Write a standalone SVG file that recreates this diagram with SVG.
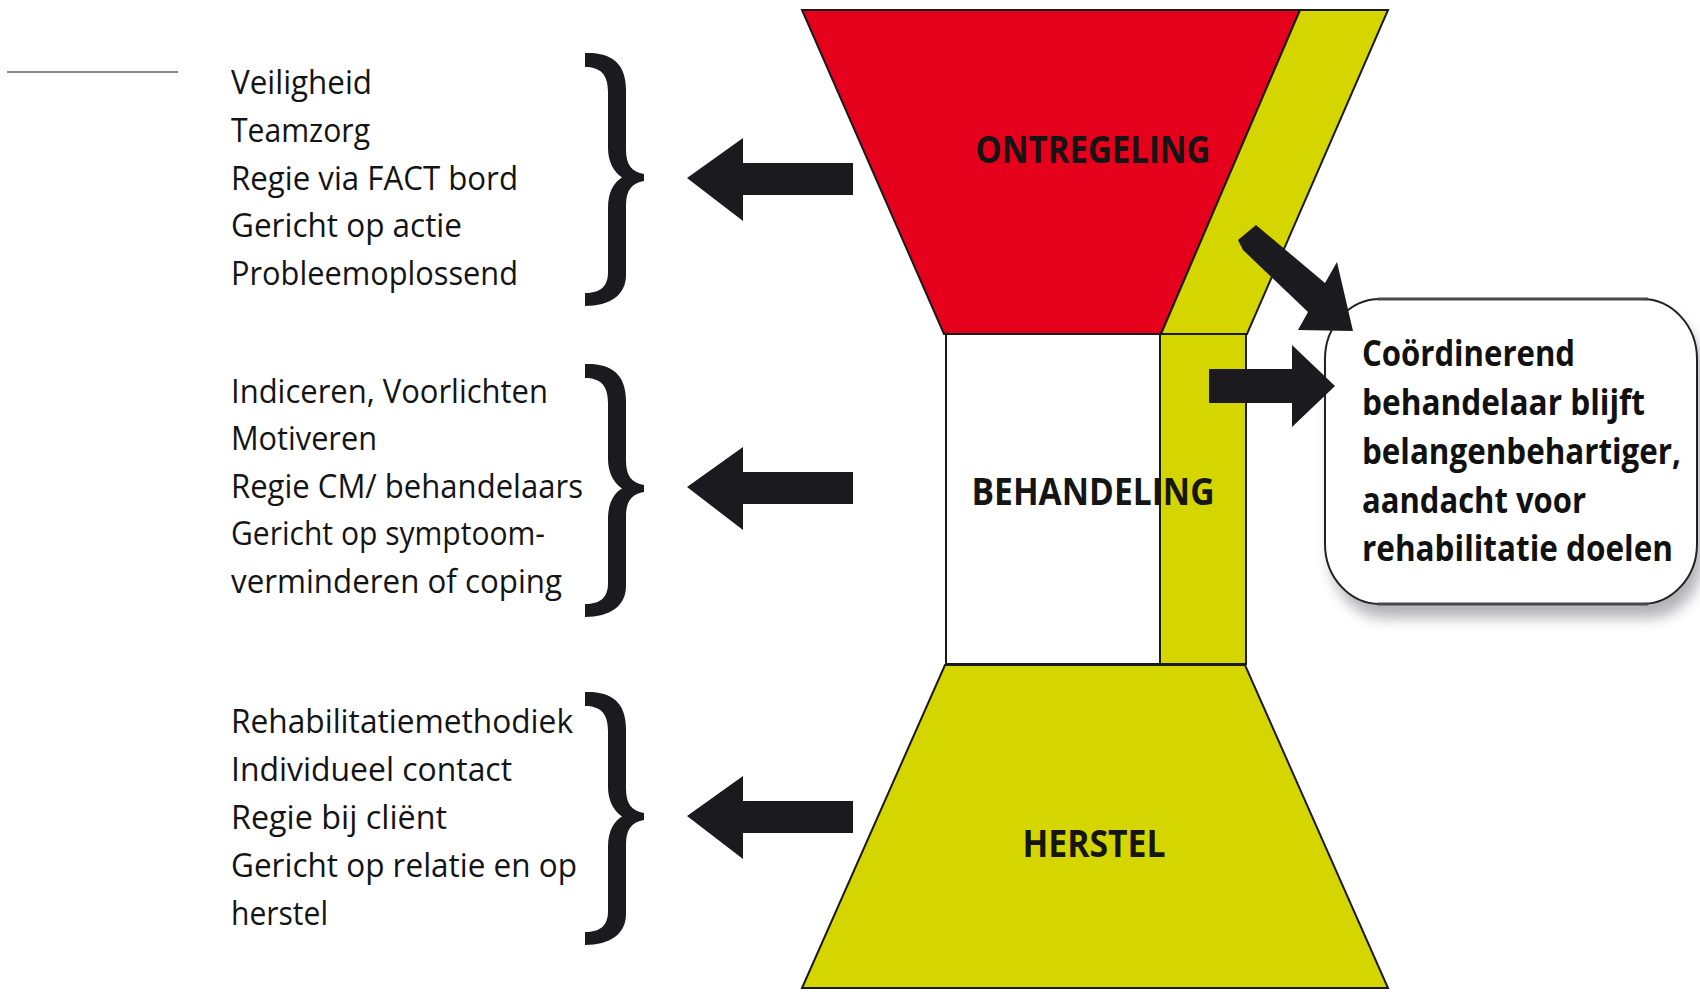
<svg xmlns="http://www.w3.org/2000/svg" width="1700" height="995" viewBox="0 0 1700 995">
<style>
.list{font-family:"Open Sans","Noto Sans","Liberation Sans",sans-serif;font-size:32px;fill:#141414}
.lab{font-family:"Open Sans","Noto Sans","Liberation Sans",sans-serif;font-size:38px;font-weight:bold;fill:#151515;text-anchor:middle}
.box{font-family:"Open Sans","Noto Sans","Liberation Sans",sans-serif;font-size:35px;font-weight:bold;fill:#111}
.edge{stroke:#1a1a1a;stroke-width:2;stroke-linejoin:miter}
.red{fill:#E5001C}
.yel{fill:#D5D500}
.ink{fill:#1b1b1f}
</style>
<defs>
<path id="brace" d="M585,53 C610,52 626,62 626,90 L626,150 C626,165 632,172 644,174 L644,181 C632,183 626,190 626,205 L626,275 C626,295 610,306 585,306 L585,293 C600,293 608,287 608,272 L608,208 C608,192 614,182 622,177.5 C614,172 608,162 608,148 L608,92 C608,74 600,67 585,67 Z"/>
<path id="larrow" d="M0,0 L56,-40 L56,-15 L166,-15 L166,17 L56,17 L56,43 Z"/>
<filter id="blur" x="-20%" y="-20%" width="140%" height="150%"><feGaussianBlur stdDeviation="7"/></filter>
</defs>
<rect width="1700" height="995" fill="#fff"/>
<line x1="7" y1="72" x2="178" y2="72" stroke="#8a8a8a" stroke-width="2"/>

<g id="node-list-ontregeling">
<text class="list" x="231" y="94" textLength="141" lengthAdjust="spacingAndGlyphs">Veiligheid</text>
<text class="list" x="231" y="142" textLength="139" lengthAdjust="spacingAndGlyphs">Teamzorg</text>
<text class="list" x="231" y="190" textLength="287" lengthAdjust="spacingAndGlyphs">Regie via FACT bord</text>
<text class="list" x="231" y="237" textLength="231" lengthAdjust="spacingAndGlyphs">Gericht op actie</text>
<text class="list" x="231" y="285" textLength="287" lengthAdjust="spacingAndGlyphs">Probleemoplossend</text>
<use href="#brace" class="ink"/>
</g>

<g id="node-list-behandeling">
<text class="list" x="231" y="403" textLength="317" lengthAdjust="spacingAndGlyphs">Indiceren, Voorlichten</text>
<text class="list" x="231" y="450" textLength="146" lengthAdjust="spacingAndGlyphs">Motiveren</text>
<text class="list" x="231" y="498" textLength="352" lengthAdjust="spacingAndGlyphs">Regie CM/ behandelaars</text>
<text class="list" x="231" y="545" textLength="314" lengthAdjust="spacingAndGlyphs">Gericht op symptoom-</text>
<text class="list" x="231" y="593" textLength="331" lengthAdjust="spacingAndGlyphs">verminderen of coping</text>
<use href="#brace" class="ink" transform="translate(0,311)"/>
</g>

<g id="node-list-herstel">
<text class="list" x="231" y="733" textLength="342" lengthAdjust="spacingAndGlyphs">Rehabilitatiemethodiek</text>
<text class="list" x="231" y="781" textLength="281" lengthAdjust="spacingAndGlyphs">Individueel contact</text>
<text class="list" x="231" y="829" textLength="216" lengthAdjust="spacingAndGlyphs">Regie bij cliënt</text>
<text class="list" x="231" y="877" textLength="346" lengthAdjust="spacingAndGlyphs">Gericht op relatie en op</text>
<text class="list" x="231" y="925" textLength="97" lengthAdjust="spacingAndGlyphs">herstel</text>
<use href="#brace" class="ink" transform="translate(0,639)"/>
</g>

<g id="node-ontregeling">
<polygon class="red edge" points="802,10 1300,10 1161,334 944,334"/>
<text class="lab" x="1093" y="163" textLength="235" lengthAdjust="spacingAndGlyphs">ONTREGELING</text>
</g>

<g id="node-strip">
<polygon class="yel edge" points="1300,10 1388,10 1247,334 1161,334"/>
</g>

<g id="node-behandeling">
<rect class="edge" x="946" y="334" width="214" height="330" fill="#fff"/>
<rect class="yel edge" x="1160" y="334" width="86" height="330"/>
<text class="lab" x="1093" y="505" textLength="243" lengthAdjust="spacingAndGlyphs">BEHANDELING</text>
</g>

<g id="node-herstel">
<polygon class="yel edge" points="945,665 1245,665 1388,988 802,988"/>
<text class="lab" x="1094" y="857" textLength="143" lengthAdjust="spacingAndGlyphs">HERSTEL</text>
</g>

<g id="node-coordinator">
<rect x="1331" y="313" width="372" height="305" rx="55" ry="60" fill="#9a9aa0" opacity="0.75" filter="url(#blur)"/>
<rect x="1325" y="299" width="372" height="305" rx="55" ry="60" fill="#fff" stroke="#222" stroke-width="2"/>
<line x1="1378" y1="299" x2="1648" y2="299" stroke="#4a4650" stroke-width="3"/>
<line x1="1378" y1="604" x2="1648" y2="604" stroke="#4a4650" stroke-width="3"/>
<text class="box" x="1362" y="366" textLength="213" lengthAdjust="spacingAndGlyphs">Coördinerend</text>
<text class="box" x="1362" y="415" textLength="283" lengthAdjust="spacingAndGlyphs">behandelaar blijft</text>
<text class="box" x="1362" y="464" textLength="319" lengthAdjust="spacingAndGlyphs">belangenbehartiger,</text>
<text class="box" x="1362" y="513" textLength="224" lengthAdjust="spacingAndGlyphs">aandacht voor</text>
<text class="box" x="1362" y="561" textLength="311" lengthAdjust="spacingAndGlyphs">rehabilitatie doelen</text>
</g>

<g id="connectors">
<use href="#larrow" class="ink" transform="translate(687,178)"/>
<use href="#larrow" class="ink" transform="translate(687,487)"/>
<use href="#larrow" class="ink" transform="translate(687,816)"/>
<polygon class="ink" points="1209,369 1292,369 1292,345 1335,386 1292,427 1292,403 1209,403"/>
<polygon class="ink" points="1256,225 1325,283 1337,262 1353,331 1298,330 1308,312 1243,250 1238,240"/>
</g>
</svg>
